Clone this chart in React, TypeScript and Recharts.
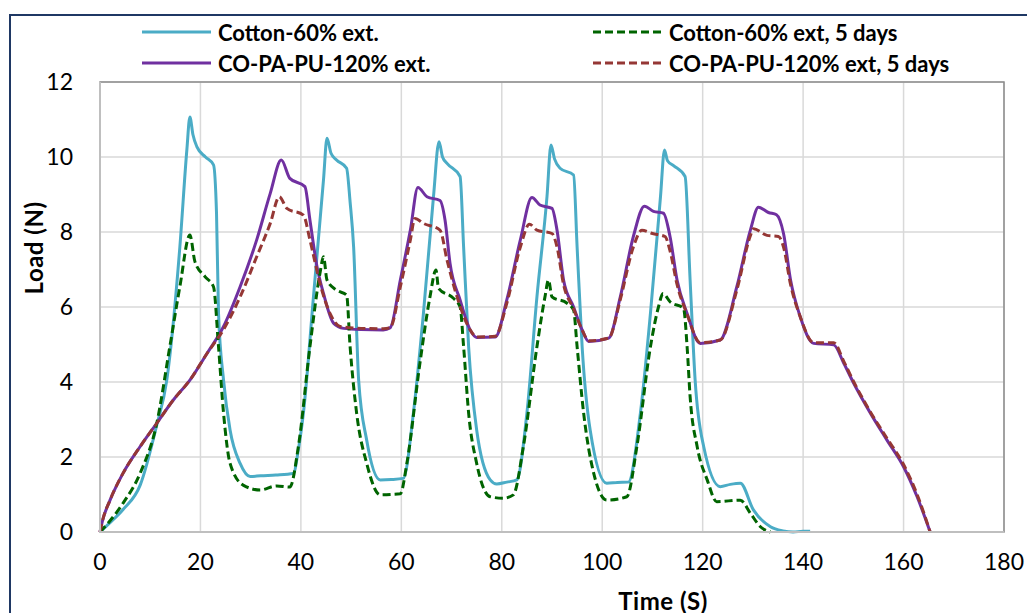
import React from 'react';
import {
  LineChart,
  Line,
  XAxis,
  YAxis,
  CartesianGrid,
  ReferenceArea,
} from 'recharts';

// time (s) / load (N)
const cottonTime = [
  0, 2, 4.6, 8, 11.3, 13.3, 15.9, 17.3, 17.9, 18.5, 19.3, 21, 22.6, 23.2, 23.6, 24.6, 25.9, 27.9, 29.9, 32, 35, 38.5,
  39.5, 40.5, 42.5, 44.5, 45.2, 46, 47.1, 49.1, 49.8, 50.5, 51.5, 53.1, 55.8, 58, 60.4, 62.4, 64.4, 66.4, 67.5, 68.2,
  69.1, 71.7, 72.4, 73.4, 75, 77.7, 79, 81, 83, 85, 87, 89, 89.8, 90.5, 91.6, 94.3, 95, 96, 97.6, 100.9, 103, 105.2,
  107.6, 109.6, 111.6, 112.4, 113, 114.2, 116.5, 117.5, 118.5, 120.2, 123.5, 125.5, 127.5, 130.1, 133.5, 136, 138,
  140, 141.4,
];
const cottonLoad = [
  0, 0.25, 0.6, 1.25, 2.85, 4.05, 7.6, 10.2, 11.07, 10.6, 10.27, 10.0, 9.79, 8.5, 5.83, 4.05, 2.72, 1.83, 1.48, 1.5,
  1.52, 1.56, 2.2, 3.17, 6.27, 9.39, 10.5, 10.1, 9.92, 9.7, 8.8, 7.6, 4.05, 2.45, 1.39, 1.4, 1.43, 3.17, 5.83, 8.94,
  10.41, 10.0, 9.83, 9.48, 7.6, 4.94, 2.72, 1.39, 1.28, 1.33, 1.39, 3.17, 6.27, 8.94, 10.32, 9.95, 9.7, 9.52, 7.6,
  4.94, 2.72, 1.3, 1.32, 1.33, 3.17, 5.83, 8.94, 10.19, 9.9, 9.77, 9.48, 6.72, 4.05, 2.28, 1.21, 1.27, 1.3, 0.59,
  0.14, 0.03, 0, 0.02, 0.02,
];

const cotton5Time = [
  0, 2, 4.6, 8, 11.3, 13.9, 15.9, 17.9, 18.9, 20.9, 22.6, 23.6, 24.6, 25.9, 28.5, 31.9, 35.2, 37.8, 39.5, 41.8, 43.8,
  44.5, 45.2, 47.1, 49.1, 49.8, 51.1, 53.1, 55.8, 58, 59.8, 61.1, 63.7, 65.7, 66.9, 67.4, 70.4, 71.7, 72.4, 73.4, 75,
  77.7, 80.3, 82.3, 84.3, 87, 88.6, 89.3, 90, 93, 94.3, 95, 96.3, 98.3, 100.9, 104.9, 106.9, 109.6, 111.2, 112.1,
  113.5, 116.2, 116.9, 117.5, 118.9, 120.9, 122.8, 127.5, 129.5, 131.5, 133.5,
];
const cotton5Load = [
  0, 0.3, 0.77, 1.57, 2.9, 4.94, 6.54, 7.92, 7.21, 6.81, 6.54, 4.94, 3.17, 1.83, 1.25, 1.12, 1.23, 1.2, 2.28, 4.94,
  6.9, 7.34, 6.72, 6.45, 6.32, 4.94, 3.17, 1.83, 0.99, 1.0, 1.02, 1.83, 4.5, 6.27, 6.99, 6.5, 6.23, 6.0, 4.94, 3.17,
  1.83, 0.94, 0.9, 0.99, 2.28, 4.94, 6.27, 6.72, 6.27, 6.1, 5.92, 4.94, 3.17, 1.57, 0.85, 0.94, 2.28, 4.94, 6.0, 6.36,
  6.14, 5.96, 4.94, 3.61, 2.28, 1.39, 0.81, 0.85, 0.5, 0.14, 0,
];

const copaTime = [
  0, 0.5, 2, 4.6, 8, 11.3, 14.6, 17.9, 21.3, 24.6, 27.9, 31.2, 33.9, 36.1, 37.8, 40.8, 41.8, 43.2, 44.5, 46.5, 48.5,
  52, 56.4, 57.8, 59.8, 61.8, 63.3, 65.1, 67.7, 68.7, 69.7, 71.7, 73.7, 75, 78.7, 81, 83.7, 86, 87.6, 90, 91, 92.3,
  94.3, 96, 97.3, 101.3, 103.6, 106.2, 108.4, 110.2, 112.2, 113.5, 114.9, 116.9, 119.5, 123.5, 126.8, 129.5, 131.1,
  133.1, 134.7, 136.1, 137.5, 139.4, 142.1, 146.1, 148.1, 150.1, 153.4, 156.7, 160, 162.7, 165.3,
];
const copaLoad = [
  0, 0.3, 0.85, 1.57, 2.28, 2.9, 3.52, 4.05, 4.76, 5.48, 6.54, 7.79, 9.03, 9.92, 9.43, 9.21, 8.32, 7.08, 6.36, 5.57,
  5.43, 5.4, 5.39, 5.45, 6.72, 8.05, 9.19, 8.94, 8.84, 8.32, 7.16, 6.19, 5.39, 5.19, 5.2, 6.19, 7.79, 8.92, 8.72, 8.63,
  8.05, 6.72, 6.0, 5.39, 5.08, 5.17, 6.27, 7.88, 8.69, 8.55, 8.5, 7.88, 6.72, 5.83, 5.03, 5.12, 6.54, 8.05, 8.66,
  8.52, 8.46, 7.96, 6.72, 5.75, 5.03, 4.99, 4.5, 3.96, 3.17, 2.45, 1.74, 0.94, 0,
];

const copa5Time = [
  0, 0.5, 2, 4.6, 8, 11.3, 14.6, 17.9, 21.3, 24.6, 27.9, 31.2, 33.9, 35.7, 37.2, 40.5, 41.8, 43.8, 45.8, 47.8, 52,
  56.4, 57.8, 59.8, 61.8, 62.7, 64.4, 67.7, 69.1, 71.1, 73.7, 75, 78.7, 81, 83.7, 85.5, 87, 90, 91, 92.3, 94.3, 96,
  97.3, 101.3, 103.6, 106.2, 107.9, 110, 112.5, 113.5, 114.9, 116.9, 119.5, 123.5, 126.8, 129.5, 130.1, 132.8, 135.1,
  136.1, 137.5, 139.4, 142.1, 146.1, 148.1, 150.1, 153.4, 156.7, 160, 162.7, 165.3,
];
const copa5Load = [
  0, 0.3, 0.85, 1.57, 2.28, 2.9, 3.52, 4.05, 4.76, 5.4, 6.27, 7.34, 8.23, 8.94, 8.63, 8.45, 7.79, 6.63, 5.83, 5.48,
  5.43, 5.42, 5.45, 6.54, 7.79, 8.36, 8.23, 8.05, 7.25, 6.27, 5.39, 5.2, 5.22, 6.1, 7.6, 8.21, 8.05, 7.96, 7.6, 6.6,
  5.95, 5.39, 5.1, 5.17, 6.2, 7.6, 8.05, 7.96, 7.88, 7.5, 6.6, 5.8, 5.05, 5.12, 6.45, 7.9, 8.09, 7.91, 7.88, 7.6, 6.6,
  5.75, 5.05, 5.05, 4.55, 4.0, 3.2, 2.5, 1.8, 1.0, 0,
];

const xTicks = [0, 20, 40, 60, 80, 100, 120, 140, 160, 180];
const yTicks = [0, 2, 4, 6, 8, 10, 12];

const toPoints = (time: number[], load: number[]) => time.map((t, i) => ({ t, load: load[i] }));

const series = [
  { name: 'Cotton-60% ext.', data: toPoints(cottonTime, cottonLoad), color: '#4BACC6', dash: undefined },
  { name: 'CO-PA-PU-120% ext.', data: toPoints(copaTime, copaLoad), color: '#7030A0', dash: undefined },
  { name: 'Cotton-60% ext, 5 days', data: toPoints(cotton5Time, cotton5Load), color: '#006400', dash: '8 4' },
  { name: 'CO-PA-PU-120% ext, 5 days', data: toPoints(copa5Time, copa5Load), color: '#953735', dash: '8 4' },
];

const FONT = 'Lato, "Open Sans", sans-serif';

function ChartLegend() {
  const cols = [142, 593];
  const rows = [32, 63];
  return (
    <div style={{ position: 'absolute', left: 0, top: 0, width: 1027, height: 80 }}>
      {series.map((s, i) => {
        const left = cols[Math.floor(i / 2)];
        const top = rows[i % 2];
        return (
          <div
            key={s.name}
            style={{ position: 'absolute', left, top: top - 14, height: 28, display: 'flex', alignItems: 'center' }}
          >
            <svg width={70} height={28}>
              <line x1={0} y1={14} x2={69} y2={14} stroke={s.color} strokeWidth={3} strokeDasharray={s.dash} />
            </svg>
            <span
              style={{
                marginLeft: 6,
                fontFamily: FONT,
                fontWeight: 700,
                fontSize: 22,
                color: '#000',
                whiteSpace: 'nowrap',
              }}
            >
              {s.name}
            </span>
          </div>
        );
      })}
    </div>
  );
}

const yTitle = (props: any) => {
  const { viewBox } = props;
  const cx = viewBox.x + 33;
  const cy = viewBox.y + viewBox.height / 2 - 59;
  return (
    <text
      x={cx}
      y={cy}
      transform={`rotate(-90 ${cx} ${cy})`}
      textAnchor="middle"
      dominantBaseline="central"
      fontFamily={FONT}
      fontWeight={700}
      fontSize={24}
      letterSpacing={0.5}
      fill="#000"
    >
      Load (N)
    </text>
  );
};

const xTitle = (props: any) => {
  const { viewBox } = props;
  return (
    <text
      x={viewBox.x + viewBox.width / 2 + 111}
      y={viewBox.y + 68}
      textAnchor="middle"
      dominantBaseline="central"
      fontFamily={FONT}
      fontWeight={700}
      fontSize={24}
      letterSpacing={0.5}
      fill="#000"
    >
      Time (S)
    </text>
  );
};

export default function App() {
  return (
    <div style={{ position: 'absolute', left: 0, top: 0, width: 1027, height: 613, background: '#fff', overflow: 'hidden' }}>
      <div
        style={{
          position: 'absolute',
          left: 9,
          top: 14,
          width: 1040,
          height: 620,
          border: '2px solid #1F3864',
          boxSizing: 'border-box',
        }}
      />
      <LineChart
        width={1027}
        height={613}
        margin={{ top: 82, right: 23, bottom: 0, left: 0 }}
        style={{ position: 'absolute', left: 0, top: 0 }}
      >
        <CartesianGrid stroke="#D9D9D9" strokeWidth={1.5} />
        <XAxis
          type="number"
          dataKey="t"
          domain={[0, 180]}
          ticks={xTicks}
          height={81}
          tickLine={false}
          tickSize={0}
          tickMargin={22}
          axisLine={{ stroke: '#BFBFBF', strokeWidth: 2 }}
          tick={{ fontFamily: FONT, fontSize: 23, fill: '#000' }}
          interval={0}
          label={{ content: xTitle }}
        />
        <YAxis
          type="number"
          domain={[0, 12]}
          ticks={yTicks}
          width={100}
          tickLine={false}
          tickSize={0}
          tickMargin={27}
          axisLine={{ stroke: '#BFBFBF', strokeWidth: 2 }}
          tick={{ fontFamily: FONT, fontSize: 23, fill: '#000' }}
          interval={0}
          label={{ content: yTitle }}
        />
        <ReferenceArea x1={0} x2={180} y1={0} y2={12} fill="none" stroke="#8C8C8C" strokeWidth={1.5} />
        {series.map((s) => (
          <Line
            key={s.name}
            data={s.data}
            dataKey="load"
            name={s.name}
            type="monotone"
            stroke={s.color}
            strokeWidth={3}
            strokeDasharray={s.dash}
            dot={false}
            activeDot={false}
            isAnimationActive={false}
          />
        ))}
      </LineChart>
      <ChartLegend />
    </div>
  );
}
